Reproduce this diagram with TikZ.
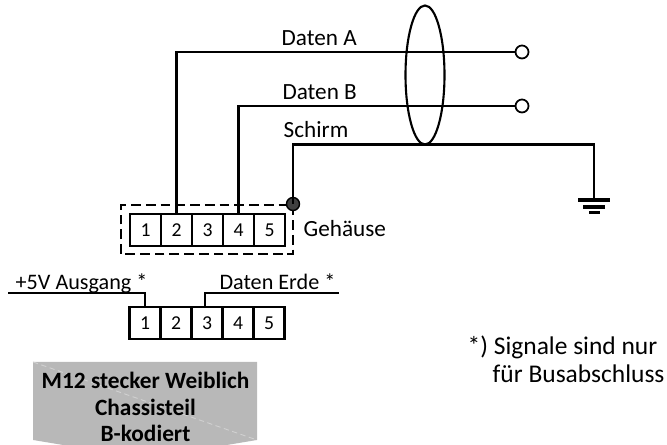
\documentclass[tikz,border=0pt]{standalone}
\usepackage{fontspec}
\setmainfont{Carlito}
\usetikzlibrary{positioning}
\tikzset{
    pinbox/.style={draw, line width=0.6pt, minimum width=0.31cm, minimum height=0.32cm, inner sep=0pt, font=\fontsize{5.6}{6}\selectfont},
    wire/.style={line width=0.6pt},
    lbl/.style={inner sep=0pt, font=\fontsize{6.6}{7}\selectfont},
    lblsmall/.style={inner sep=0pt, font=\fontsize{6.3}{7}\selectfont},
    notelbl/.style={inner sep=0pt, font=\fontsize{7.25}{8}\selectfont},
    endpoint/.style={circle, draw, line width=0.5pt, fill=white, minimum size=0.13cm, inner sep=0pt},
}
\begin{document}
\begin{tikzpicture}
    \useasboundingbox (0,0) rectangle (6.67,4.45);

    % upper connector
    \foreach \n [count=\i from 0] in {1,...,5} {
        \node[pinbox] (a\n) at (1.455+\i*0.31,2.15) {\n};
    }
    % lower connector
    \foreach \n [count=\i from 0] in {1,...,5} {
        \node[pinbox] (b\n) at (1.45+\i*0.31,1.22) {\n};
    }

    % housing
    \draw[dash pattern=on 2.8pt off 1.4pt, line width=0.35pt] (1.21,1.91) rectangle (2.93,2.40);
    \node[lbl, anchor=base west] (housing) at (3.03,2.08) {Gehäuse};

    % signals
    \node[endpoint] (endA) at (5.22,3.93) {};
    \node[endpoint] (endB) at (5.22,3.39) {};
    \draw[wire] (a2.north) |- (endA.west) node[pos=0.711, above=1.6pt, lbl] (datenA) {Daten A};
    \draw[wire] (a4.north) |- (endB.west) node[pos=0.647, above=1.6pt, lbl] (datenB) {Daten B};

    % shield
    \node[circle, draw, line width=0.4pt, fill=black!75, minimum size=0.13cm, inner sep=0pt] (dot) at (2.93,2.41) {};
    \coordinate (gnd) at (5.94,2.45);
    \draw[wire] (dot.center) |- (5.94,3.005) -- (gnd);
    \node[lbl, anchor=base west] (schirm) at (2.83,3.07) {Schirm};
    \draw[line width=0.6pt] (4.25,3.70) ellipse (0.195 and 0.695);

    % ground
    \draw[line width=0.95pt] (5.78,2.45) -- (6.10,2.45);
    \draw[line width=0.9pt] (5.83,2.38) -- (6.05,2.38);
    \draw[line width=0.85pt] (5.89,2.32) -- (6.00,2.32);

    % bus termination
    \coordinate (leftend) at (0.08,1.52);
    \coordinate (rightend) at (3.39,1.52);
    \draw[wire] (b1.north) |- (leftend);
    \draw[wire] ([xshift=-0.45pt]b3.north) |- (rightend);
    \node[lblsmall, anchor=base west] (ausgang) at (0.15,1.555) {+5V Ausgang *};
    \node[lblsmall, anchor=base east] (erde) at (3.36,1.555) {Daten Erde *};

    % footnote
    \node[notelbl, anchor=base west] (note1) at (4.67,0.90) {*) Signale sind nur};
    \node[notelbl, anchor=base west] (note2) at (4.92,0.62) {für Busabschluss};

    % title plate
    \fill[black!28] (0.33,0.83) -- (2.57,0.83) -- (2.57,0.05) -- (2.27,0) -- (0.63,0) -- (0.33,0.05) -- cycle;
    \draw[black!18, line width=0.25pt, dash pattern=on 1.5pt off 1pt] (0.33,0.83) -- (2.57,0.05);
    \node[align=center, inner sep=0pt, anchor=base, font=\fontsize{6.64}{7.6}\selectfont\bfseries] (plate) at (1.455,0.03) {M12 stecker Weiblich\\Chassisteil\\\smash{B-kodiert}};
\end{tikzpicture}
\end{document}
